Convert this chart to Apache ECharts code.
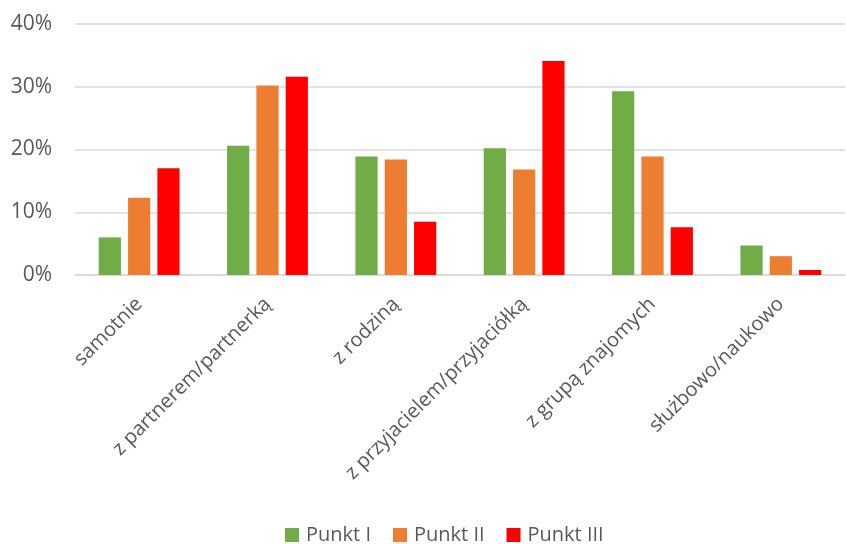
<!DOCTYPE html>
<html><head><meta charset="utf-8">
<script src="https://cdn.jsdelivr.net/npm/echarts@6/dist/echarts.min.js"></script>
<style>html,body{margin:0;padding:0;background:#fff}#c{width:846px;height:544px}</style>
</head><body><div id="c"></div>
<script>
const categories = ['samotnie','z partnerem/partnerką','z rodziną','z przyjacielem/przyjaciółką','z grupą znajomych','służbowo/naukowo'];
const punkt1 = [6.0, 20.6, 18.9, 20.2, 29.3, 4.7];
const punkt2 = [12.3, 30.2, 18.4, 16.8, 18.9, 3.0];
const punkt3 = [17.0, 31.6, 8.5, 34.1, 7.6, 0.8];
const seriesNames = ['Punkt I','Punkt II','Punkt III'];
const colors = ['#70ad47','#ed7d31','#ff0000'];
const font = '"Open Sans", "Liberation Sans", sans-serif';
const chart = echarts.init(document.getElementById('c'));
const data = [punkt1, punkt2, punkt3];
chart.setOption({
  animation:false,
  grid:{left:75,right:1,top:24,bottom:269},
  legend:{top:520,left:280,itemWidth:14,itemHeight:14,itemGap:22,icon:'rect',
    textStyle:{fontSize:20,color:'#595959',fontFamily:font,padding:[0,0,0,2]},data:seriesNames},
  xAxis:{type:'category',data:categories,
    axisLine:{lineStyle:{color:'#d9d9d9',width:1.5}},axisTick:{show:false},
    axisLabel:{rotate:45,fontSize:20,color:'#595959',fontFamily:font,margin:26,interval:0}},
  yAxis:{type:'value',min:0,max:40,interval:10,
    axisLabel:{formatter:'{value}%',fontSize:21,color:'#595959',fontFamily:font,margin:23},
    splitLine:{lineStyle:{color:'#d9d9d9',width:1.5}},axisLine:{show:false},axisTick:{show:false}},
  series: seriesNames.map((n,i)=>({name:n,type:'bar',data:data[i],barGap:'32%',barCategoryGap:'37%',
    itemStyle:{color:colors[i]}}))
});
</script></body></html>
